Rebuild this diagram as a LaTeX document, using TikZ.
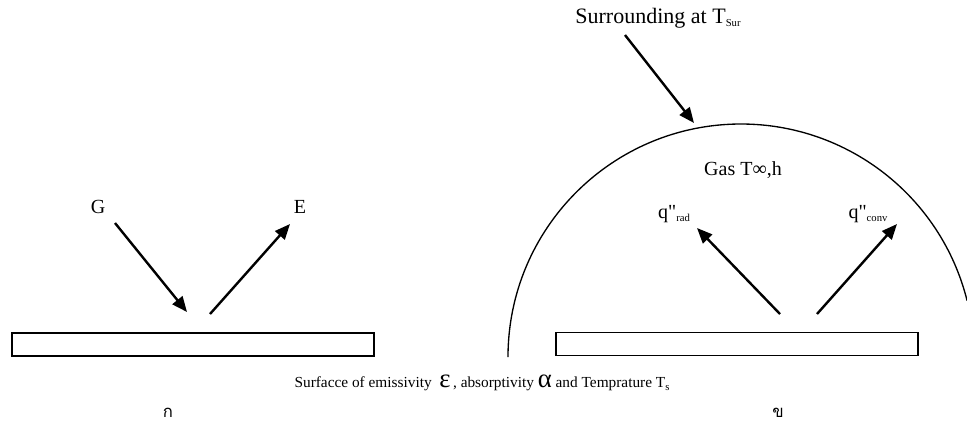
\documentclass[tikz,border=0pt]{standalone}
\usepackage{fontspec}
\setmainfont{Liberation Serif}
\newfontfamily\thaifont[Script=Thai]{Loma}
\usetikzlibrary{positioning, arrows.meta}
\newcommand{\lowsub}[1]{\raisebox{-0.35ex}{\fontsize{8}{9}\selectfont #1}}

\begin{document}
\begin{tikzpicture}[x=0.75pt, y=0.75pt,
    plate/.style={draw, line width=1.2pt, minimum width=271.5pt, minimum height=17.5pt, inner sep=0pt},
    flux/.style={line width=1.8pt, -{Triangle[length=11.5pt, width=9.5pt]}},
    lbl/.style={font=\fontsize{15}{17}\selectfont, inner sep=1pt},
    big/.style={font=\fontsize{16.5}{19}\selectfont, inner sep=1pt}]
    \useasboundingbox (0,0) rectangle (967,-437);
    % plates
    \node[plate] (plateL) at (193,-344.5) {};
    \node[plate] (plateR) at (737,-344) {};
    % surroundings
    \draw[line width=1pt] (508,-357) arc[start angle=180, end angle=14, radius=233];
    \node[big] (sur) at (658,-18) {Surrounding at T\lowsub{Sur}};
    \coordinate (surS) at (625,-35);
    \coordinate (surE) at (694,-123);
    \draw[flux] (surS) -- (surE);
    % left: irradiation and emission
    \node[lbl] (G) at (98,-207) {G};
    \node[lbl] (E) at (300,-207) {E};
    \coordinate (gS) at (115,-223);
    \coordinate (gE) at (187,-312);
    \coordinate (eS) at (210,-314);
    \coordinate (eE) at (290,-224);
    \draw[flux] (gS) -- (gE);
    \draw[flux] (eS) -- (eE);
    % right: radiation and convection
    \node[lbl] (gas) at (743,-170) {Gas T∞,h};
    \node[lbl] (qrad) at (674,-214) {q\textquotedbl\lowsub{rad}};
    \node[lbl] (qconv) at (868,-214) {q\textquotedbl\lowsub{conv}};
    \coordinate (rS) at (780,-314);
    \coordinate (rE) at (697,-228);
    \coordinate (cS) at (817,-314);
    \coordinate (cE) at (897,-224);
    \draw[flux] (rS) -- (rE);
    \draw[flux] (cS) -- (cE);
    % caption
    \node[font=\fontsize{11.5}{14}\selectfont] (surf) at (482,-383)
        {Surfacce of emissivity \ {\fontsize{20}{20}\selectfont ε}\,, absorptivity {\fontsize{20}{20}\selectfont α} and Temprature T\lowsub{s}};
    \node[font=\thaifont\fontsize{12.5}{14}\selectfont] (ka) at (168,-413) {ก};
    \node[font=\thaifont\fontsize{12.5}{14}\selectfont] (kho) at (778,-413) {ข};
\end{tikzpicture}
\end{document}
